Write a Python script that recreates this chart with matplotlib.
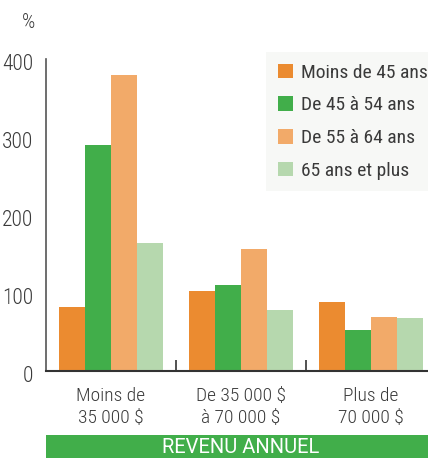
import matplotlib
matplotlib.use("Agg")
import matplotlib.pyplot as plt
import matplotlib.transforms as mtransforms
import numpy as np

plt.rcParams['font.family'] = ['Roboto Condensed', 'DejaVu Sans']

categories = ['Moins de\n35 000 $', 'De 35 000 $\nà 70 000 $', 'Plus de\n70 000 $']
series_names = ['Moins de 45 ans', 'De 45 à 54 ans', 'De 55 à 64 ans', '65 ans et plus']
moins45 = [82, 103, 88]
de45_54 = [290, 110, 53]
de55_64 = [379, 156, 69]
plus65 = [164, 78, 68]
yticks = [0, 100, 200, 300, 400]

colors = ['#EB8B30', '#41AE4A', '#F2AA69', '#B6D8AE']
text_col = '#3a3a3a'

fig = plt.figure(figsize=(4.28, 4.58), dpi=100)
W, H = 428, 458
ax = fig.add_axes([46 / W, (H - 371) / H, 390 / W, 312 / H])

x = np.arange(len(categories))
w = 0.2
for i, vals in enumerate([moins45, de45_54, de55_64, plus65]):
    ax.bar(x - 0.3 + i * w, vals, width=w, color=colors[i], label=series_names[i])

ax.set_xlim(-0.5, 2.5)
ax.set_ylim(0, 400)
ax.set_yticks(yticks)
ax.tick_params(axis='y', length=0, pad=9, labelsize=15.5, labelcolor=text_col)
shift = mtransforms.ScaledTranslation(0, -3 / 100, fig.dpi_scale_trans)
for t in ax.get_yticklabels():
    t.set_transform(t.get_transform() + shift)
    t.set_fontweight('light')
ax.set_xticks([0.5, 1.5])
ax.set_xticklabels([])
ax.tick_params(axis='x', direction='in', length=8, width=1.2, color='#333333')
for s in ['top', 'right']:
    ax.spines[s].set_visible(False)
ax.spines['left'].set_color('#555555')
ax.spines['left'].set_linewidth(1.2)
ax.spines['bottom'].set_color('#333333')
ax.spines['bottom'].set_linewidth(1.5)

for xi, lab in zip(x, categories):
    ax.text(xi, -0.05, lab, transform=ax.get_xaxis_transform(), ha='center', va='top',
            fontsize=14, color=text_col, linespacing=1.3, fontweight='light')

fig.text(29 / W, 1 - 22 / H, '%', ha='center', va='center', fontsize=15, color=text_col,
         fontweight='light')

leg = ax.legend(loc='upper left', bbox_to_anchor=(266 / W, (H - 190) / H, (445 - 266) / W, 138 / H),
                bbox_transform=fig.transFigure, mode='expand', borderaxespad=0,
                fontsize=14, handlelength=0.78, handleheight=0.78, handletextpad=0.4,
                labelspacing=0.75, borderpad=0.6, fancybox=False, frameon=True,
                facecolor='#F7F8F6', edgecolor='none', framealpha=1)
for t in leg.get_texts():
    t.set_color(text_col)

# banner
fig.patches.append(plt.Rectangle((46 / W, 0), 390 / W, 23 / H, transform=fig.transFigure,
                                 facecolor='#41AE4A', edgecolor='none'))
fig.text(241 / W, 10.5 / H, 'REVENU ANNUEL', ha='center', va='center', fontsize=14.5,
         color='white', family=['Roboto', 'DejaVu Sans'])

fig.savefig('out.png', dpi=100)
